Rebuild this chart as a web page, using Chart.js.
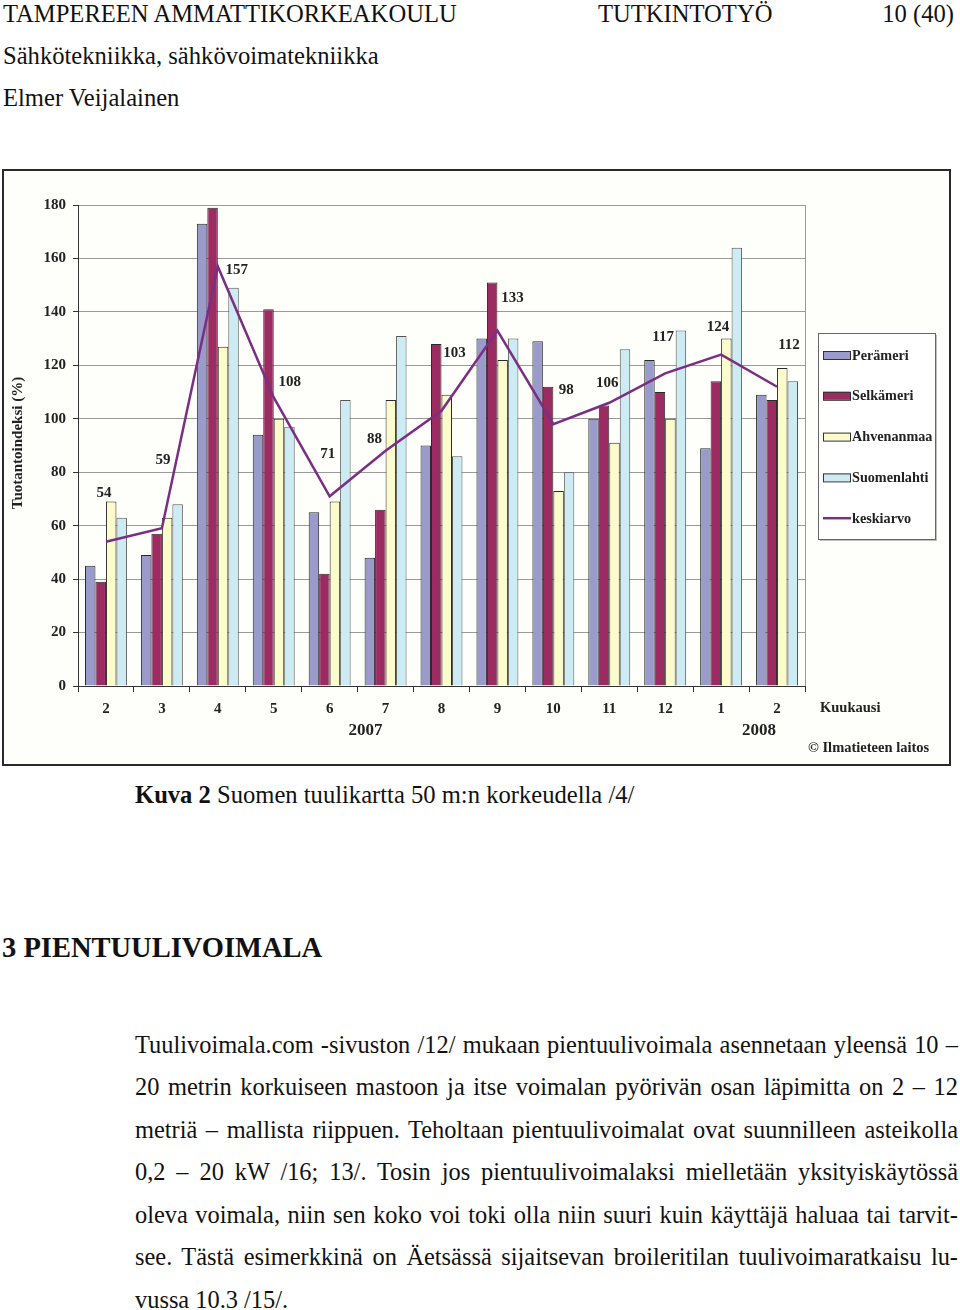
<!DOCTYPE html>
<html>
<head>
<meta charset="utf-8">
<script src="https://cdn.jsdelivr.net/npm/chart.js@4"></script>
<style>
  body { margin: 0; background: #fff; width: 960px; height: 1310px; position: relative; overflow: hidden;
         font-family: 'Liberation Serif', 'Times New Roman', serif; color: #111; }
  .t { position: absolute; font-size: 24.6px; line-height: 30px; white-space: nowrap; }
  .p { position: absolute; left: 135px; width: 823px; font-size: 24.4px; line-height: 30px;
       text-align: justify; text-align-last: justify; white-space: nowrap; }
  .p.last { text-align-last: left; }
  #frame { position: absolute; left: 2px; top: 169px; width: 945px; height: 593px;
           border: 2px solid #2a2a2a; background: #fefefb; }
</style>
</head>
<body>
<div class="t" style="left:3px;top:-1px">TAMPEREEN AMMATTIKORKEAKOULU</div>
<div class="t" style="left:598px;top:-1px">TUTKINTOTYÖ</div>
<div class="t" style="right:6px;top:-1px">10 (40)</div>
<div class="t" style="left:3px;top:41px">Sähkötekniikka, sähkövoimatekniikka</div>
<div class="t" style="left:3px;top:83px">Elmer Veijalainen</div>

<div id="frame"><canvas id="c" width="945" height="593"></canvas></div>

<div class="t" style="left:135px;top:780px"><b>Kuva 2</b> Suomen tuulikartta 50 m:n korkeudella /4/</div>
<div class="t" style="left:2px;top:933px;font-size:28.5px;font-weight:bold">3 PIENTUULIVOIMALA</div>

<div class="p" style="top:1030px">Tuulivoimala.com -sivuston /12/ mukaan pientuulivoimala asennetaan yleensä 10 –</div>
<div class="p" style="top:1072px">20 metrin korkuiseen mastoon ja itse voimalan pyörivän osan läpimitta on 2 – 12</div>
<div class="p" style="top:1115px">metriä – mallista riippuen. Teholtaan pientuulivoimalat ovat suunnilleen asteikolla</div>
<div class="p" style="top:1157px">0,2 – 20 kW /16; 13/. Tosin jos pientuulivoimalaksi mielletään yksityiskäytössä</div>
<div class="p" style="top:1200px">oleva voimala, niin sen koko voi toki olla niin suuri kuin käyttäjä haluaa tai tarvit-</div>
<div class="p" style="top:1242px">see. Tästä esimerkkinä on Äetsässä sijaitsevan broileritilan tuulivoimaratkaisu lu-</div>
<div class="p last" style="top:1285px">vussa 10.3 /15/.</div>

<script>
'use strict';

const months = ['2', '3', '4', '5', '6', '7', '8', '9', '10', '11', '12', '1', '2'];
const peramerI = [45, 49, 173, 94, 65, 48, 90, 130, 129, 100, 122, 89, 109];
const selkameri = [39, 57, 179, 141, 42, 66, 128, 151, 112, 105, 110, 114, 107];
const ahvenanmaa = [69, 63, 127, 100, 69, 107, 109, 122, 73, 91, 100, 130, 119];
const suomenlahti = [63, 68, 149, 97, 107, 131, 86, 130, 80, 126, 133, 164, 114];
const keskiarvo = [54, 59, 157, 108, 71, 88, 103, 133, 98, 106, 117, 124, 112];

// where each average label sits relative to its point (px)
const labelOffsets = [[-2, -49], [1, -68], [19, 4], [16, -15], [-2, -42], [-11, -12], [13, -58],
  [15, -32], [13, -34], [-2, -20], [-2, -36], [-3, -28], [12, -42]];

const bold = (size) => ({ family: "'Liberation Serif', serif", size: size, weight: 'bold' });

const extras = {
  id: 'extras',
  afterDraw(chart) {
    const ctx = chart.ctx;
    const area = chart.chartArea;
    ctx.save();
    // right edge of plot
    ctx.strokeStyle = '#999';
    ctx.lineWidth = 1;
    ctx.beginPath();
    ctx.moveTo(area.right + 0.5, area.top);
    ctx.lineTo(area.right + 0.5, area.bottom);
    ctx.stroke();

    // average value labels
    const meta = chart.getDatasetMeta(4);
    ctx.fillStyle = '#222';
    ctx.font = "bold 15px 'Liberation Serif', serif";
    ctx.textAlign = 'center';
    ctx.textBaseline = 'middle';
    meta.data.forEach((pt, i) => {
      ctx.fillText(String(keskiarvo[i]), pt.x + labelOffsets[i][0], pt.y + labelOffsets[i][1]);
    });

    // year / axis texts
    ctx.font = "bold 17px 'Liberation Serif', serif";
    const xs = chart.scales.x;
    ctx.fillText('2007', xs.getPixelForValue(5) - 20, 560);
    ctx.fillText('2008', xs.getPixelForValue(11) + 38, 560);
    ctx.textAlign = 'left';
    ctx.font = "bold 14.5px 'Liberation Serif', serif";
    ctx.fillText('Kuukausi', 816, 537);
    ctx.font = "bold 14.5px 'Liberation Serif', serif";
    ctx.fillText('© Ilmatieteen laitos', 804, 577);

    // y title
    ctx.save();
    ctx.translate(14, 272);
    ctx.rotate(-Math.PI / 2);
    ctx.textAlign = 'center';
    ctx.font = "bold 15px 'Liberation Serif', serif";
    ctx.fillText('Tuotantoindeksi (%)', 0, 0);
    ctx.restore();

    // legend box
    const lx = 814, ly = 162, lw = 117, lh = 206;
    ctx.fillStyle = 'rgba(0,0,0,0.25)';
    ctx.fillRect(lx + 2, ly + 2, lw, lh);
    ctx.fillStyle = '#fff';
    ctx.fillRect(lx, ly, lw, lh);
    ctx.strokeStyle = '#666';
    ctx.strokeRect(lx + 0.5, ly + 0.5, lw, lh);
    ctx.font = "bold 14.2px 'Liberation Serif', serif";
    chart.data.datasets.forEach((ds, i) => {
      const y = ly + 22 + i * 40.8;
      if (ds.type === 'line') {
        ctx.strokeStyle = ds.borderColor;
        ctx.lineWidth = 2.5;
        ctx.beginPath();
        ctx.moveTo(lx + 5, y);
        ctx.lineTo(lx + 33, y);
        ctx.stroke();
        ctx.lineWidth = 1;
      } else {
        ctx.fillStyle = ds.backgroundColor;
        ctx.fillRect(lx + 5, y - 4, 27, 8);
        ctx.strokeStyle = '#333';
        ctx.strokeRect(lx + 5.5, y - 3.5, 27, 8);
      }
      ctx.fillStyle = '#222';
      ctx.fillText(ds.label, lx + 34, y + 1);
    });
    ctx.restore();
  }
};

const barStyle = { borderColor: '#2a2a2a', borderWidth: 1, barPercentage: 1.0, categoryPercentage: 0.75 };

new Chart(document.querySelector('#c'), {
  type: 'bar',
  data: {
    labels: months,
    datasets: [
      { label: 'Perämeri', data: peramerI, backgroundColor: '#9a9acb', ...barStyle, order: 1 },
      { label: 'Selkämeri', data: selkameri, backgroundColor: '#9b2b60', ...barStyle, order: 1 },
      { label: 'Ahvenanmaa', data: ahvenanmaa, backgroundColor: '#fbfbcc', ...barStyle, order: 1 },
      { label: 'Suomenlahti', data: suomenlahti, backgroundColor: '#cdebf3', ...barStyle, borderColor: '#555', order: 1 },
      { type: 'line', label: 'keskiarvo', data: keskiarvo, borderColor: '#7a2f82', borderWidth: 2.5,
        pointRadius: 0, tension: 0, order: 0 },
    ],
  },
  options: {
    responsive: false,
    animation: false,
    layout: { padding: { top: 34, right: 144, left: 0, bottom: 0 } },
    plugins: { legend: { display: false }, tooltip: { enabled: false } },
    scales: {
      x: {
        grid: { offset: true, drawOnChartArea: false, tickLength: 6, color: '#333' },
        border: { color: '#333' },
        ticks: { font: bold(15), color: '#222', padding: 8 },
        afterFit: (s) => { s.height = 78; },
      },
      y: {
        min: 0,
        max: 180,
        ticks: { stepSize: 20, font: bold(15), color: '#222', padding: 7 },
        grid: { color: '#9a9a9a', tickColor: '#333', tickLength: 5 },
        border: { color: '#333' },
        afterFit: (s) => { s.width = 74; },
      },
    },
  },
  plugins: [extras],
});
</script>
</body>
</html>
